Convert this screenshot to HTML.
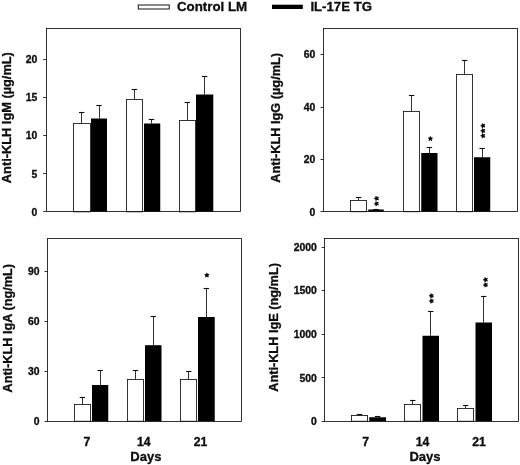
<!DOCTYPE html>
<html><head><meta charset="utf-8"><style>
html,body{margin:0;padding:0;background:#fff;}
svg{display:block;font-family:"Liberation Sans",sans-serif;font-weight:bold;fill:#0a0a0a;}
text{stroke:#0a0a0a;stroke-width:0.3px;}
</style></head><body>
<svg width="520" height="465" viewBox="0 0 520 465">
<defs><filter id="b" x="0" y="0" width="520" height="465" filterUnits="userSpaceOnUse"><feGaussianBlur stdDeviation="0.25"/></filter></defs>
<rect x="0" y="0" width="520" height="465" fill="#fff" stroke="none"/>
<g filter="url(#b)">
<line x1="81.5" y1="112.5" x2="81.5" y2="123.5" stroke="#111" stroke-width="0.85"/>
<line x1="78.95" y1="112.5" x2="84.35000000000001" y2="112.5" stroke="#111" stroke-width="1.1"/>
<rect x="73.5" y="123.5" width="17.00" height="88.30" fill="#fff" stroke="#111" stroke-width="0.85"/>
<line x1="99.5" y1="105.5" x2="99.5" y2="118.5" stroke="#111" stroke-width="0.85"/>
<line x1="96.3" y1="105.5" x2="101.7" y2="105.5" stroke="#111" stroke-width="1.1"/>
<rect x="91" y="118.5" width="16.00" height="93.30" fill="#000" stroke="none" stroke-width="0"/>
<line x1="134.5" y1="89.5" x2="134.5" y2="99.25" stroke="#111" stroke-width="0.85"/>
<line x1="131.675" y1="89.5" x2="137.075" y2="89.5" stroke="#111" stroke-width="1.1"/>
<rect x="126.5" y="99.5" width="16.00" height="112.30" fill="#fff" stroke="#111" stroke-width="0.85"/>
<line x1="151.5" y1="119.5" x2="151.5" y2="123.5" stroke="#111" stroke-width="0.85"/>
<line x1="148.8" y1="119.5" x2="154.2" y2="119.5" stroke="#111" stroke-width="1.1"/>
<rect x="144" y="123.5" width="16.25" height="88.30" fill="#000" stroke="none" stroke-width="0"/>
<line x1="187.5" y1="102.5" x2="187.5" y2="120.5" stroke="#111" stroke-width="0.85"/>
<line x1="184.55" y1="102.5" x2="189.95" y2="102.5" stroke="#111" stroke-width="1.1"/>
<rect x="179.5" y="120.5" width="16.00" height="91.30" fill="#fff" stroke="#111" stroke-width="0.85"/>
<line x1="204.5" y1="76.25" x2="204.5" y2="94.5" stroke="#111" stroke-width="0.85"/>
<line x1="201.95000000000002" y1="76.5" x2="207.35" y2="76.5" stroke="#111" stroke-width="1.1"/>
<rect x="196" y="94.5" width="17.30" height="117.30" fill="#000" stroke="none" stroke-width="0"/>
<rect x="46.5" y="28.5" width="194.0" height="183.0" fill="none" stroke="#111" stroke-width="0.85"/>
<line x1="43.2" y1="211.5" x2="46.2" y2="211.5" stroke="#111" stroke-width="0.85"/>
<text x="37.400000000000006" y="215.95" font-size="10.4" text-anchor="end">0</text>
<line x1="43.2" y1="173.5" x2="46.2" y2="173.5" stroke="#111" stroke-width="0.85"/>
<text x="37.400000000000006" y="177.7" font-size="10.4" text-anchor="end">5</text>
<line x1="43.2" y1="135.5" x2="46.2" y2="135.5" stroke="#111" stroke-width="0.85"/>
<text x="37.400000000000006" y="139.45" font-size="10.4" text-anchor="end">10</text>
<line x1="43.2" y1="97.5" x2="46.2" y2="97.5" stroke="#111" stroke-width="0.85"/>
<text x="37.400000000000006" y="101.2" font-size="10.4" text-anchor="end">15</text>
<line x1="43.2" y1="59.5" x2="46.2" y2="59.5" stroke="#111" stroke-width="0.85"/>
<text x="37.400000000000006" y="63.45" font-size="10.4" text-anchor="end">20</text>
<text x="11.0" y="117.65" font-size="12.8" text-anchor="middle" transform="rotate(-90 11.0 117.65)">Anti-KLH IgM (µg/mL)</text>
<line x1="358.5" y1="197.5" x2="358.5" y2="200.25" stroke="#111" stroke-width="0.85"/>
<line x1="355.925" y1="197.5" x2="361.325" y2="197.5" stroke="#111" stroke-width="1.1"/>
<rect x="350.5" y="200.5" width="16.00" height="11.20" fill="#fff" stroke="#111" stroke-width="0.85"/>
<line x1="376.5" y1="209" x2="376.5" y2="209.5" stroke="#111" stroke-width="0.85"/>
<line x1="373.3" y1="209.5" x2="378.7" y2="209.5" stroke="#111" stroke-width="1.1"/>
<rect x="368.25" y="209.5" width="15.50" height="2.20" fill="#000" stroke="none" stroke-width="0"/>
<line x1="411.5" y1="95.5" x2="411.5" y2="111.75" stroke="#111" stroke-width="0.85"/>
<line x1="408.925" y1="95.5" x2="414.325" y2="95.5" stroke="#111" stroke-width="1.1"/>
<rect x="403.5" y="111.5" width="16.00" height="100.20" fill="#fff" stroke="#111" stroke-width="0.85"/>
<line x1="429.5" y1="147.25" x2="429.5" y2="153" stroke="#111" stroke-width="0.85"/>
<line x1="426.675" y1="147.5" x2="432.075" y2="147.5" stroke="#111" stroke-width="1.1"/>
<rect x="421.25" y="153" width="16.25" height="58.70" fill="#000" stroke="none" stroke-width="0"/>
<line x1="464.5" y1="60.5" x2="464.5" y2="74.25" stroke="#111" stroke-width="0.85"/>
<line x1="461.925" y1="60.5" x2="467.325" y2="60.5" stroke="#111" stroke-width="1.1"/>
<rect x="456.5" y="74.5" width="16.00" height="137.20" fill="#fff" stroke="#111" stroke-width="0.85"/>
<line x1="482.5" y1="148.5" x2="482.5" y2="157.25" stroke="#111" stroke-width="0.85"/>
<line x1="479.425" y1="148.5" x2="484.825" y2="148.5" stroke="#111" stroke-width="1.1"/>
<rect x="474" y="157.25" width="16.25" height="54.45" fill="#000" stroke="none" stroke-width="0"/>
<rect x="323.5" y="28.5" width="194.0" height="183.0" fill="none" stroke="#111" stroke-width="0.85"/>
<line x1="320.5" y1="211.5" x2="323.5" y2="211.5" stroke="#111" stroke-width="0.85"/>
<text x="315.3" y="215.95" font-size="10.4" text-anchor="end">0</text>
<line x1="320.5" y1="159.5" x2="323.5" y2="159.5" stroke="#111" stroke-width="0.85"/>
<text x="315.3" y="163.45" font-size="10.4" text-anchor="end">20</text>
<line x1="320.5" y1="107.5" x2="323.5" y2="107.5" stroke="#111" stroke-width="0.85"/>
<text x="315.3" y="111.2" font-size="10.4" text-anchor="end">40</text>
<line x1="320.5" y1="54.5" x2="323.5" y2="54.5" stroke="#111" stroke-width="0.85"/>
<text x="315.3" y="58.45" font-size="10.4" text-anchor="end">60</text>
<text x="279.9" y="117.85" font-size="12.75" text-anchor="middle" transform="rotate(-90 279.9 117.85)">Anti-KLH IgG (µg/mL)</text>
<path d="M376.60 198.40L374.80 198.40M376.60 198.40L376.04 196.69M376.60 198.40L378.06 197.34M376.60 198.40L378.06 199.46M376.60 198.40L376.04 200.11" stroke="#111" stroke-width="1.45" stroke-linecap="round" fill="none"/>
<circle cx="376.6" cy="198.4" r="1.35" fill="#111" stroke="none"/>
<path d="M376.60 203.70L374.80 203.70M376.60 203.70L376.04 201.99M376.60 203.70L378.06 202.64M376.60 203.70L378.06 204.76M376.60 203.70L376.04 205.41" stroke="#111" stroke-width="1.45" stroke-linecap="round" fill="none"/>
<circle cx="376.6" cy="203.7" r="1.35" fill="#111" stroke="none"/>
<path d="M430.40 138.70L430.40 136.90M430.40 138.70L432.11 138.14M430.40 138.70L431.46 140.16M430.40 138.70L429.34 140.16M430.40 138.70L428.69 138.14" stroke="#111" stroke-width="1.45" stroke-linecap="round" fill="none"/>
<circle cx="430.4" cy="138.7" r="1.35" fill="#111" stroke="none"/>
<path d="M483.00 125.70L481.20 125.70M483.00 125.70L482.44 123.99M483.00 125.70L484.46 124.64M483.00 125.70L484.46 126.76M483.00 125.70L482.44 127.41" stroke="#111" stroke-width="1.45" stroke-linecap="round" fill="none"/>
<circle cx="483" cy="125.7" r="1.35" fill="#111" stroke="none"/>
<path d="M483.00 130.80L481.20 130.80M483.00 130.80L482.44 129.09M483.00 130.80L484.46 129.74M483.00 130.80L484.46 131.86M483.00 130.80L482.44 132.51" stroke="#111" stroke-width="1.45" stroke-linecap="round" fill="none"/>
<circle cx="483" cy="130.8" r="1.35" fill="#111" stroke="none"/>
<path d="M483.00 135.80L481.20 135.80M483.00 135.80L482.44 134.09M483.00 135.80L484.46 134.74M483.00 135.80L484.46 136.86M483.00 135.80L482.44 137.51" stroke="#111" stroke-width="1.45" stroke-linecap="round" fill="none"/>
<circle cx="483" cy="135.8" r="1.35" fill="#111" stroke="none"/>
<line x1="82.5" y1="397" x2="82.5" y2="404.75" stroke="#111" stroke-width="0.85"/>
<line x1="79.675" y1="397.5" x2="85.075" y2="397.5" stroke="#111" stroke-width="1.1"/>
<rect x="74.5" y="404.5" width="16.00" height="16.75" fill="#fff" stroke="#111" stroke-width="0.85"/>
<line x1="100.5" y1="370.5" x2="100.5" y2="385" stroke="#111" stroke-width="0.85"/>
<line x1="97.425" y1="370.5" x2="102.825" y2="370.5" stroke="#111" stroke-width="1.1"/>
<rect x="92" y="385" width="16.25" height="36.25" fill="#000" stroke="none" stroke-width="0"/>
<line x1="135.5" y1="370.5" x2="135.5" y2="379.25" stroke="#111" stroke-width="0.85"/>
<line x1="132.8" y1="370.5" x2="138.2" y2="370.5" stroke="#111" stroke-width="1.1"/>
<rect x="127.5" y="379.5" width="16.00" height="41.75" fill="#fff" stroke="#111" stroke-width="0.85"/>
<line x1="153.5" y1="316.6" x2="153.5" y2="345.2" stroke="#111" stroke-width="0.85"/>
<line x1="150.55" y1="316.5" x2="155.95" y2="316.5" stroke="#111" stroke-width="1.1"/>
<rect x="145" y="345.2" width="16.50" height="76.05" fill="#000" stroke="none" stroke-width="0"/>
<line x1="188.5" y1="371.5" x2="188.5" y2="379" stroke="#111" stroke-width="0.85"/>
<line x1="186.05" y1="371.5" x2="191.45" y2="371.5" stroke="#111" stroke-width="1.1"/>
<rect x="180.5" y="379.5" width="16.00" height="41.75" fill="#fff" stroke="#111" stroke-width="0.85"/>
<line x1="206.5" y1="288.5" x2="206.5" y2="317" stroke="#111" stroke-width="0.85"/>
<line x1="203.675" y1="288.5" x2="209.075" y2="288.5" stroke="#111" stroke-width="1.1"/>
<rect x="198" y="317" width="16.75" height="104.25" fill="#000" stroke="none" stroke-width="0"/>
<rect x="47.5" y="238.5" width="194.0" height="183.0" fill="none" stroke="#111" stroke-width="0.85"/>
<line x1="44.5" y1="421.5" x2="47.5" y2="421.5" stroke="#111" stroke-width="0.85"/>
<text x="39.6" y="425.45" font-size="10.4" text-anchor="end">0</text>
<line x1="44.5" y1="371.5" x2="47.5" y2="371.5" stroke="#111" stroke-width="0.85"/>
<text x="39.6" y="375.45" font-size="10.4" text-anchor="end">30</text>
<line x1="44.5" y1="321.5" x2="47.5" y2="321.5" stroke="#111" stroke-width="0.85"/>
<text x="39.6" y="325.45" font-size="10.4" text-anchor="end">60</text>
<line x1="44.5" y1="271.5" x2="47.5" y2="271.5" stroke="#111" stroke-width="0.85"/>
<text x="39.6" y="275.45" font-size="10.4" text-anchor="end">90</text>
<text x="11.8" y="328.3" font-size="12.69" text-anchor="middle" transform="rotate(-90 11.8 328.3)">Anti-KLH IgA (ng/mL)</text>
<path d="M206.90 275.20L206.90 273.40M206.90 275.20L208.61 274.64M206.90 275.20L207.96 276.66M206.90 275.20L205.84 276.66M206.90 275.20L205.19 274.64" stroke="#111" stroke-width="1.45" stroke-linecap="round" fill="none"/>
<circle cx="206.9" cy="275.2" r="1.35" fill="#111" stroke="none"/>
<text x="87" y="445.9" font-size="12.2" text-anchor="middle">7</text>
<text x="143.75" y="445.9" font-size="12.2" text-anchor="middle">14</text>
<text x="200.6" y="445.9" font-size="12.2" text-anchor="middle">21</text>
<text x="145.9" y="460.7" font-size="13" text-anchor="middle">Days</text>
<line x1="359.5" y1="414.5" x2="359.5" y2="415.5" stroke="#111" stroke-width="0.85"/>
<line x1="356.8" y1="414.5" x2="362.2" y2="414.5" stroke="#111" stroke-width="1.1"/>
<rect x="351.5" y="415.5" width="16.00" height="5.75" fill="#fff" stroke="#111" stroke-width="0.85"/>
<line x1="377.5" y1="416" x2="377.5" y2="417.25" stroke="#111" stroke-width="0.85"/>
<line x1="374.925" y1="416.5" x2="380.325" y2="416.5" stroke="#111" stroke-width="1.1"/>
<rect x="369.25" y="417.25" width="16.75" height="4.00" fill="#000" stroke="none" stroke-width="0"/>
<line x1="412.5" y1="400.5" x2="412.5" y2="404.5" stroke="#111" stroke-width="0.85"/>
<line x1="410.05" y1="400.5" x2="415.45" y2="400.5" stroke="#111" stroke-width="1.1"/>
<rect x="404.5" y="404.5" width="16.00" height="16.75" fill="#fff" stroke="#111" stroke-width="0.85"/>
<line x1="430.5" y1="311.25" x2="430.5" y2="335.75" stroke="#111" stroke-width="0.85"/>
<line x1="428.05" y1="311.5" x2="433.45" y2="311.5" stroke="#111" stroke-width="1.1"/>
<rect x="422.5" y="335.75" width="16.50" height="85.50" fill="#000" stroke="none" stroke-width="0"/>
<line x1="465.5" y1="405.75" x2="465.5" y2="408.5" stroke="#111" stroke-width="0.85"/>
<line x1="463.05" y1="405.5" x2="468.45" y2="405.5" stroke="#111" stroke-width="1.1"/>
<rect x="457.5" y="408.5" width="16.00" height="12.75" fill="#fff" stroke="#111" stroke-width="0.85"/>
<line x1="483.5" y1="296.25" x2="483.5" y2="322.5" stroke="#111" stroke-width="0.85"/>
<line x1="481.05" y1="296.5" x2="486.45" y2="296.5" stroke="#111" stroke-width="1.1"/>
<rect x="475.5" y="322.5" width="16.50" height="98.75" fill="#000" stroke="none" stroke-width="0"/>
<rect x="324.5" y="238.5" width="194.0" height="183.0" fill="none" stroke="#111" stroke-width="0.85"/>
<line x1="321.7" y1="421.5" x2="324.7" y2="421.5" stroke="#111" stroke-width="0.85"/>
<text x="316.9" y="425.45" font-size="10.4" text-anchor="end">0</text>
<line x1="321.7" y1="377.5" x2="324.7" y2="377.5" stroke="#111" stroke-width="0.85"/>
<text x="316.9" y="381.7" font-size="10.4" text-anchor="end">500</text>
<line x1="321.7" y1="334.5" x2="324.7" y2="334.5" stroke="#111" stroke-width="0.85"/>
<text x="316.9" y="338.2" font-size="10.4" text-anchor="end">1000</text>
<line x1="321.7" y1="290.5" x2="324.7" y2="290.5" stroke="#111" stroke-width="0.85"/>
<text x="316.9" y="294.45" font-size="10.4" text-anchor="end">1500</text>
<line x1="321.7" y1="247.5" x2="324.7" y2="247.5" stroke="#111" stroke-width="0.85"/>
<text x="316.9" y="251.2" font-size="10.4" text-anchor="end">2000</text>
<text x="277.9" y="327.45" font-size="12.74" text-anchor="middle" transform="rotate(-90 277.9 327.45)">Anti-KLH IgE (ng/mL)</text>
<path d="M431.50 295.80L429.70 295.80M431.50 295.80L430.94 294.09M431.50 295.80L432.96 294.74M431.50 295.80L432.96 296.86M431.50 295.80L430.94 297.51" stroke="#111" stroke-width="1.45" stroke-linecap="round" fill="none"/>
<circle cx="431.5" cy="295.8" r="1.35" fill="#111" stroke="none"/>
<path d="M431.50 301.00L429.70 301.00M431.50 301.00L430.94 299.29M431.50 301.00L432.96 299.94M431.50 301.00L432.96 302.06M431.50 301.00L430.94 302.71" stroke="#111" stroke-width="1.45" stroke-linecap="round" fill="none"/>
<circle cx="431.5" cy="301" r="1.35" fill="#111" stroke="none"/>
<path d="M485.60 279.70L483.80 279.70M485.60 279.70L485.04 277.99M485.60 279.70L487.06 278.64M485.60 279.70L487.06 280.76M485.60 279.70L485.04 281.41" stroke="#111" stroke-width="1.45" stroke-linecap="round" fill="none"/>
<circle cx="485.6" cy="279.7" r="1.35" fill="#111" stroke="none"/>
<path d="M485.60 284.90L483.80 284.90M485.60 284.90L485.04 283.19M485.60 284.90L487.06 283.84M485.60 284.90L487.06 285.96M485.60 284.90L485.04 286.61" stroke="#111" stroke-width="1.45" stroke-linecap="round" fill="none"/>
<circle cx="485.6" cy="284.9" r="1.35" fill="#111" stroke="none"/>
<text x="365.75" y="445.9" font-size="12.2" text-anchor="middle">7</text>
<text x="422.5" y="445.9" font-size="12.2" text-anchor="middle">14</text>
<text x="479" y="445.9" font-size="12.2" text-anchor="middle">21</text>
<text x="425.0" y="460.7" font-size="13" text-anchor="middle">Days</text>
<rect x="138.3" y="5.0" width="30.90" height="4.00" fill="#fff" stroke="#111" stroke-width="1.0"/>
<text x="177.0" y="11" font-size="13.3" text-anchor="start">Control LM</text>
<rect x="272" y="4.7" width="30.80" height="4.30" fill="#000" stroke="none" stroke-width="0"/>
<text x="310.4" y="11" font-size="13.2" text-anchor="start">IL-17E TG</text>
</g>
</svg></body></html>
